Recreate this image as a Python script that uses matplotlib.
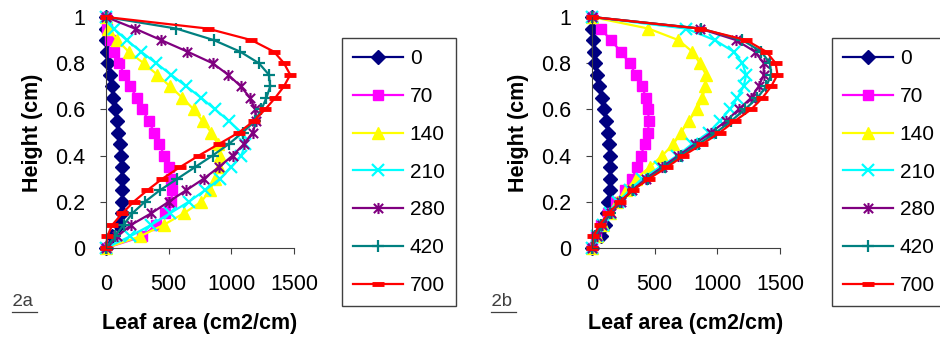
import matplotlib
matplotlib.use("Agg")
import matplotlib.pyplot as plt
from matplotlib.lines import Line2D
from matplotlib.path import Path

plt.rcParams['font.family'] = ['Liberation Sans', 'DejaVu Sans']

# heights (cm)
heights = [0, 0.05, 0.1, 0.15, 0.2, 0.25, 0.3, 0.35, 0.4, 0.45, 0.5,
           0.55, 0.6, 0.65, 0.7, 0.75, 0.8, 0.85, 0.9, 0.95, 1.0]
labels = ['0', '70', '140', '210', '280', '420', '700']

# panel 2a : leaf area (cm2/cm) at each height
a_0 = [0, 50, 100, 125, 130, 130, 128, 124, 118, 110, 98, 85, 72, 58, 45, 30, 18, 5, 0, 0, 0]
a_70 = [0, 290, 400, 470, 520, 530, 520, 500, 465, 425, 385, 340, 290, 245, 195, 145, 105, 65, 30, 5, 0]
a_140 = [0, 270, 460, 620, 760, 830, 870, 900, 910, 890, 840, 770, 700, 610, 510, 410, 300, 180, 90, 15, 0]
a_210 = [0, 190, 360, 510, 660, 790, 910, 1000, 1080, 1110, 1080, 980, 870, 760, 640, 520, 400, 280, 165, 60, 0]
a_280 = [0, 90, 200, 360, 500, 640, 780, 900, 1010, 1100, 1170, 1200, 1190, 1150, 1075, 975, 850, 650, 440, 230, 0]
a_420 = [0, 70, 140, 210, 310, 430, 570, 710, 850, 980, 1090, 1190, 1240, 1280, 1310, 1300, 1220, 1070, 860, 560, 0]
a_700 = [0, 10, 50, 130, 220, 330, 450, 590, 740, 900, 1060, 1180, 1270, 1350, 1420, 1470, 1420, 1340, 1160, 810, 0]

# panel 2b
b_0 = [0, 75, 100, 118, 130, 140, 142, 142, 140, 135, 125, 110, 98, 80, 55, 38, 25, 15, 5, 0, 0]
b_70 = [0, 30, 70, 130, 190, 260, 320, 360, 390, 420, 445, 455, 445, 430, 400, 350, 300, 230, 150, 70, 0]
b_140 = [0, 40, 90, 140, 200, 270, 350, 460, 560, 650, 710, 770, 840, 880, 905, 910, 860, 800, 690, 450, 0]
b_210 = [0, 40, 90, 140, 210, 300, 400, 540, 680, 800, 930, 1020, 1100, 1160, 1210, 1230, 1200, 1130, 980, 750, 0]
b_280 = [0, 40, 80, 150, 230, 320, 430, 560, 690, 820, 950, 1070, 1170, 1270, 1330, 1370, 1370, 1300, 1150, 860, 0]
b_420 = [0, 25, 70, 140, 225, 325, 445, 580, 710, 850, 990, 1110, 1220, 1320, 1390, 1430, 1420, 1350, 1200, 870, 0]
b_700 = [0, 10, 60, 130, 220, 325, 455, 600, 730, 880, 1020, 1140, 1270, 1360, 1430, 1480, 1465, 1390, 1230, 860, 0]

# excel-like star: X with a vertical bar
star = Path([(-1, -1), (1, 1), (-1, 1), (1, -1), (0, -1.2), (0, 1.2)],
            [Path.MOVETO, Path.LINETO, Path.MOVETO, Path.LINETO, Path.MOVETO, Path.LINETO])

colors = ['#000080', '#FF00FF', '#FFFF00', '#00FFFF', '#800080', '#008080', '#FF0000']
markers = ['D', 's', '^', 'x', star, '+', '_']
msizes = [7.5, 6.5, 8, 8, 8, 9, 9]
mews = [1, 1, 1, 1.6, 1.5, 1.6, 3.5]

fig = plt.figure(figsize=(9.4, 3.39), dpi=100)
W, H = 940, 339

panels = [
    (106, [a_0, a_70, a_140, a_210, a_280, a_420, a_700], '2a', 12, 342),
    (592, [b_0, b_70, b_140, b_210, b_280, b_420, b_700], '2b', 491, 832),
]

for x0, series, tag, tagx, legx in panels:
    ax = fig.add_axes([x0 / W, 1 - 248 / H, 188 / W, 231 / H])
    for vals, lab, c, m, ms, mew in zip(series, labels, colors, markers, msizes, mews):
        ax.plot(vals, heights, color=c, lw=1.6, marker=m, ms=ms, mew=mew,
                mec=c, mfc=c, label=lab, clip_on=False)
    ax.set_xlim(0, 1500)
    ax.set_ylim(0, 1)
    ax.set_xticks([0, 500, 1000, 1500])
    ax.set_yticks([0, 0.2, 0.4, 0.6, 0.8, 1])
    ax.set_yticklabels(['0', '0.2', '0.4', '0.6', '0.8', '1'])
    for s in ['top', 'right']:
        ax.spines[s].set_visible(False)
    for s in ['left', 'bottom']:
        ax.spines[s].set_color('#404040')
    ax.tick_params(direction='out', length=4, color='#404040', labelsize=15.5)
    ax.tick_params(axis='x', pad=15)
    ax.tick_params(axis='y', pad=11)
    ax.set_xlabel('Leaf area (cm2/cm)', fontsize=15.5, fontweight='bold', labelpad=13)
    ax.set_ylabel('Height (cm)', fontsize=15.5, fontweight='bold', labelpad=9)

    leg = fig.legend(*ax.get_legend_handles_labels(), loc='upper left',
                     bbox_to_anchor=(legx / W, 1 - 38 / H), numpoints=1,
                     fontsize=15, frameon=True, fancybox=False,
                     edgecolor='#404040', framealpha=1, handlelength=2.4,
                     handletextpad=0.3, labelspacing=0.9, borderpad=0.55,
                     borderaxespad=0)
    leg.get_frame().set_linewidth(1)

    fig.text(tagx / W, 1 - 301 / H, tag, fontsize=13.5, family='Liberation Mono',
             color='#404040', va='center')
    fig.add_artist(Line2D([tagx / W, (tagx + 25) / W], [1 - 312 / H, 1 - 312 / H],
                          color='#404040', lw=0.9))

fig.savefig('out.png', dpi=100)
